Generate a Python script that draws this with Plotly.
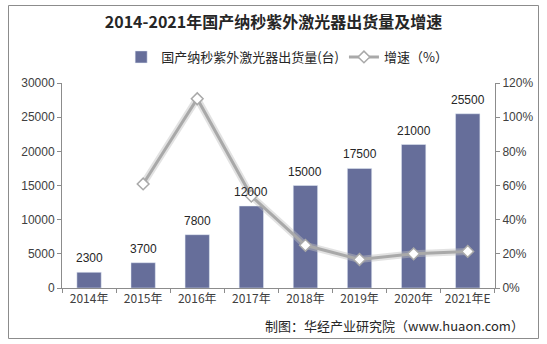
import plotly.graph_objects as go

years = ["2014年", "2015年", "2016年", "2017年", "2018年", "2019年", "2020年", "2021年E"]
shipments = [2300, 3700, 7800, 12000, 15000, 17500, 21000, 25500]
growth_years = years[1:]
growth = [60.9, 110.8, 53.8, 25.0, 16.7, 20.0, 21.4]

bar_name = "国产纳秒紫外激光器出货量(台)"
line_name = "增速（%）"

font_main = "Liberation Sans, Arial, Noto Sans CJK SC, sans-serif"
font_cjk = "Noto Sans CJK SC, sans-serif"

fig = go.Figure()
fig.add_trace(go.Bar(
    x=years, y=shipments, name=bar_name,
    marker=dict(color="#666e9a"), width=0.45,
))
# soft shadow for the line
fig.add_trace(go.Scatter(
    x=growth_years, y=growth, yaxis="y2", mode="lines",
    line=dict(color="rgba(190,190,190,0.45)", width=7),
    showlegend=False, hoverinfo="skip",
))
fig.add_trace(go.Scatter(
    x=growth_years, y=growth, yaxis="y2", name=line_name,
    mode="lines+markers",
    line=dict(color="#a9a9a9", width=3),
    marker=dict(symbol="diamond", size=9, color="white",
                line=dict(color="#a9a9a9", width=1.5)),
))

W, H = 547, 344
L, R, T, B = 62, 52, 83, 56
pw, ph = W - L - R, H - T - B

def px(x):
    return (x - L) / pw

def py(y):
    return (H - B - y) / ph

annotations = [dict(
    x=yr, y=v, xref="x", yref="y", text=str(v), showarrow=False,
    yanchor="bottom", yshift=5,
    font=dict(size=12, color="#262626", family=font_main),
) for yr, v in zip(years, shipments)]

annotations.append(dict(
    text="制图：华经产业研究院（www.huaon.com）",
    xref="paper", yref="paper", x=px(526), y=py(325),
    xanchor="right", yanchor="middle", showarrow=False,
    font=dict(size=13, color="#262626", family=font_cjk),
))

fig.update_layout(
    width=W, height=H,
    margin=dict(l=L, r=R, t=T, b=B),
    paper_bgcolor="white", plot_bgcolor="white",
    font=dict(family=font_main, size=12, color="#404040"),
    title=dict(
        text="<b>2014-2021年国产纳秒紫外激光器出货量及增速</b>",
        x=0.5, xanchor="center", y=1 - 22 / H, yanchor="middle",
        font=dict(size=16, color="#262626", family=font_cjk),
    ),
    legend=dict(
        orientation="h", x=0.52, xanchor="center", y=py(57), yanchor="middle",
        font=dict(size=13, color="#262626", family=font_cjk),
        tracegroupgap=0,
    ),
    xaxis=dict(
        type="category", showline=True, linecolor="#8c8c8c", linewidth=1,
        ticks="outside", tickson="boundaries", ticklen=4, tickcolor="#8c8c8c",
        tickangle=0,
        tickfont=dict(size=12, color="#404040", family=font_cjk),
        showgrid=False,
    ),
    yaxis=dict(
        range=[0, 30000], dtick=5000, tickformat="d", showline=True, linecolor="#8c8c8c",
        ticks="outside", ticklen=4, tickcolor="#8c8c8c", showgrid=False,
        zeroline=False, tickfont=dict(size=12, color="#404040"),
    ),
    yaxis2=dict(
        overlaying="y", side="right", range=[0, 120], dtick=20,
        ticksuffix="%", showline=True, linecolor="#8c8c8c",
        ticks="outside", ticklen=4, tickcolor="#8c8c8c", showgrid=False,
        zeroline=False, tickfont=dict(size=12, color="#404040"),
    ),
    shapes=[dict(
        type="rect", xref="paper", yref="paper",
        x0=px(8.5), x1=px(538.5), y0=py(338.5), y1=py(5.5),
        line=dict(color="#8c8c8c", width=1), fillcolor="rgba(0,0,0,0)",
        layer="below",
    )],
    annotations=annotations,
)

fig.write_html("out.html")
